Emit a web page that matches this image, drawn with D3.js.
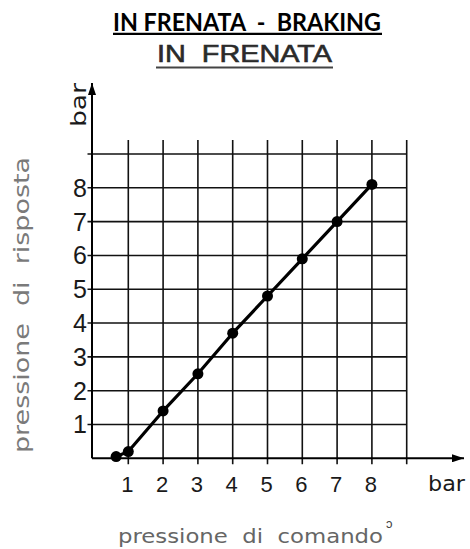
<!DOCTYPE html>
<html>
<head>
<meta charset="utf-8">
<script src="https://cdn.jsdelivr.net/npm/d3@7"></script>
<style>
  body { margin: 0; background: #fff; }
  svg { display: block; }
  text { white-space: pre; }
</style>
</head>
<body>
<svg id="chart" width="470" height="549"></svg>
<script>
// pressione di comando (bar) -> pressione di risposta (bar)
const comando = [0.65, 1, 2, 3, 4, 5, 6, 7, 8];
const risposta = [0.05, 0.2, 1.4, 2.5, 3.7, 4.8, 5.9, 7.0, 8.1];
const xGrid = [1, 2, 3, 4, 5, 6, 7, 8, 9];
const yGrid = [1, 2, 3, 4, 5, 6, 7, 8, 9];
const xTickLabels = ['1', '2', '3', '4', '5', '6', '7', '8'];
const yTickLabels = ['1', '2', '3', '4', '5', '6', '7', '8'];

const svg = d3.select('#chart');
const x = d3.scaleLinear().domain([0, 9]).range([93.5, 406.7]);
const y = d3.scaleLinear().domain([0, 9]).range([458.3, 154]);
const techFont = '"Liberation Sans", Arial, sans-serif';
const roundFont = '"DejaVu Sans", sans-serif';

// titles
svg.append('text')
  .attr('x', 113).attr('y', 31)
  .attr('textLength', 268).attr('lengthAdjust', 'spacingAndGlyphs')
  .style('font-family', 'Lato, "Open Sans", sans-serif')
  .style('font-weight', 700).style('font-size', '24px')
  .attr('fill', '#000')
  .text('IN FRENATA  -  BRAKING');
svg.append('line')
  .attr('x1', 113).attr('x2', 382).attr('y1', 33.8).attr('y2', 33.8)
  .attr('stroke', '#000').attr('stroke-width', 2.2);

svg.append('text')
  .attr('x', 157).attr('y', 62)
  .attr('textLength', 175).attr('lengthAdjust', 'spacingAndGlyphs')
  .style('font-family', techFont).style('font-size', '24px')
  .attr('fill', '#2a2a2a').attr('stroke', '#2a2a2a').attr('stroke-width', 0.6)
  .text('IN  FRENATA');
svg.append('line')
  .attr('x1', 156).attr('x2', 333).attr('y1', 67.5).attr('y2', 67.5)
  .attr('stroke', '#444').attr('stroke-width', 2);

// grid
const grid = svg.append('g').attr('stroke', '#111').attr('stroke-width', 1.6);
grid.selectAll('line.v')
  .data(xGrid)
  .enter()
  .append('line')
  .attr('class', 'v')
  .attr('x1', d => x(d)).attr('x2', d => x(d))
  .attr('y1', 140).attr('y2', y(0) + 6);
grid.selectAll('line.h')
  .data(yGrid)
  .enter()
  .append('line')
  .attr('class', 'h')
  .attr('y1', d => y(d)).attr('y2', d => y(d))
  .attr('x1', x(0) - 6).attr('x2', x(9));

// axes with arrows
svg.append('defs').append('marker')
  .attr('id', 'arrow')
  .attr('viewBox', '0 0 12 8')
  .attr('refX', 12).attr('refY', 4)
  .attr('markerWidth', 12).attr('markerHeight', 8)
  .attr('markerUnits', 'userSpaceOnUse')
  .attr('orient', 'auto')
  .append('path')
  .attr('d', 'M0,0 L12,4 L0,8 Z')
  .attr('fill', '#000');

const axisX0 = x(0) - 1.5;
svg.append('line')
  .attr('x1', axisX0).attr('x2', axisX0)
  .attr('y1', y(0)).attr('y2', 83)
  .attr('stroke', '#000').attr('stroke-width', 2)
  .attr('marker-end', 'url(#arrow)');
svg.append('line')
  .attr('x1', axisX0).attr('x2', 464)
  .attr('y1', y(0)).attr('y2', y(0))
  .attr('stroke', '#000').attr('stroke-width', 2)
  .attr('marker-end', 'url(#arrow)');

// tick labels
svg.selectAll('text.yt')
  .data(yTickLabels)
  .enter()
  .append('text')
  .attr('class', 'yt')
  .attr('x', 87)
  .attr('y', d => y(+d) + 9)
  .attr('text-anchor', 'end')
  .style('font-family', techFont).style('font-size', '25px')
  .attr('fill', '#1a1a1a')
  .text(d => d);

svg.selectAll('text.xt')
  .data(xTickLabels)
  .enter()
  .append('text')
  .attr('class', 'xt')
  .attr('x', d => x(+d) - 1)
  .attr('y', 492)
  .attr('text-anchor', 'middle')
  .style('font-family', techFont).style('font-size', '22px')
  .attr('fill', '#1a1a1a')
  .text(d => d);

// units
svg.append('text')
  .attr('x', 428).attr('y', 491)
  .attr('textLength', 37).attr('lengthAdjust', 'spacingAndGlyphs')
  .style('font-family', roundFont).style('font-size', '21px')
  .attr('fill', '#1a1a1a')
  .text('bar');
svg.append('text')
  .attr('transform', 'translate(86,127) rotate(-90)')
  .attr('textLength', 44).attr('lengthAdjust', 'spacingAndGlyphs')
  .style('font-family', roundFont).style('font-size', '21px')
  .attr('fill', '#1a1a1a')
  .text('bar');

// axis titles
svg.append('text')
  .attr('transform', 'translate(29,453) rotate(-90)')
  .attr('textLength', 296).attr('lengthAdjust', 'spacingAndGlyphs')
  .style('font-family', roundFont).style('font-size', '21px')
  .attr('fill', '#7a7a7a')
  .text('pressione  di  risposta');
svg.append('text')
  .attr('x', 118).attr('y', 543)
  .attr('textLength', 265).attr('lengthAdjust', 'spacingAndGlyphs')
  .style('font-family', roundFont).style('font-size', '20px')
  .attr('fill', '#666')
  .text('pressione  di  comando');
svg.append('text')
  .attr('x', 386).attr('y', 528)
  .style('font-family', techFont).style('font-size', '13px')
  .attr('fill', '#444')
  .text('ɔ');

// curve
const pts = comando.map((c, i) => [c, risposta[i]]);
const line = d3.line().x(d => x(d[0])).y(d => y(d[1]));
svg.append('path')
  .datum(pts)
  .attr('d', line)
  .attr('fill', 'none')
  .attr('stroke', '#000')
  .attr('stroke-width', 3.2)
  .attr('stroke-linejoin', 'round');
svg.selectAll('circle.pt')
  .data(pts)
  .enter()
  .append('circle')
  .attr('class', 'pt')
  .attr('cx', d => x(d[0]))
  .attr('cy', d => y(d[1]))
  .attr('r', 5.5)
  .attr('fill', '#000');
</script>
</body>
</html>
